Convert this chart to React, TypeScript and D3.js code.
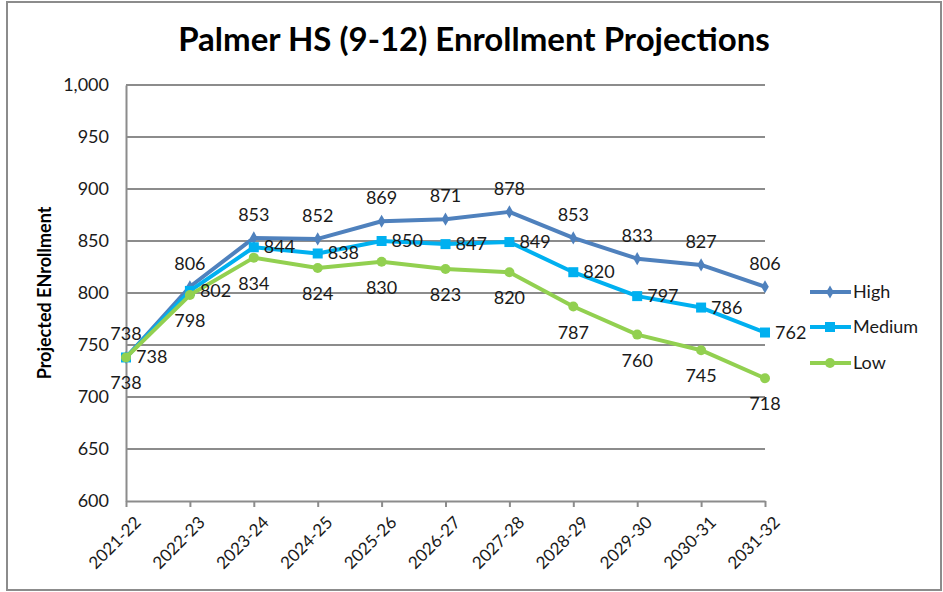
import { useEffect, useRef } from "react";
import * as d3 from "d3";

// Chart data
const years = [
  "2021-22", "2022-23", "2023-24", "2024-25", "2025-26", "2026-27",
  "2027-28", "2028-29", "2029-30", "2030-31", "2031-32",
];
const high = [738, 806, 853, 852, 869, 871, 878, 853, 833, 827, 806];
const medium = [738, 802, 844, 838, 850, 847, 849, 820, 797, 786, 762];
const low = [738, 798, 834, 824, 830, 823, 820, 787, 760, 745, 718];
const yTicks = [600, 650, 700, 750, 800, 850, 900, 950, 1000];

const FONT = "Lato, 'Open Sans', sans-serif";

export default function App() {
  const svgRef = useRef<SVGSVGElement | null>(null);

  useEffect(() => {
    const svg = d3.select(svgRef.current);
    svg.selectAll("*").remove();

    const left = 126, right = 765, top = 85, bottom = 501;

    const x = d3.scalePoint<string>().domain(years).range([left, right]);
    const y = d3.scaleLinear().domain([600, 1000]).range([bottom, top]);

    // outer frame
    svg.append("rect")
      .attr("x", 7).attr("y", 2).attr("width", 934).attr("height", 588)
      .attr("fill", "white").attr("stroke", "#8c8c8c").attr("stroke-width", 2);

    // title
    svg.append("text")
      .attr("x", 474).attr("y", 51)
      .attr("text-anchor", "middle")
      .attr("font-family", FONT).attr("font-weight", "bold").attr("font-size", 33)
      .text("Palmer HS (9-12) Enrollment Projections");

    // gridlines
    svg.append("g")
      .selectAll("line")
      .data(yTicks.slice(1))
      .join("line")
      .attr("x1", left).attr("x2", right)
      .attr("y1", (d) => y(d)).attr("y2", (d) => y(d))
      .attr("stroke", "#8c8c8c").attr("stroke-width", 2);

    // y axis
    const yAxis = svg.append("g")
      .attr("transform", `translate(${left},0)`)
      .call(d3.axisLeft(y).tickValues(yTicks).tickSize(0).tickPadding(17).tickFormat(d3.format(",")));
    yAxis.select(".domain").attr("stroke", "#8c8c8c").attr("stroke-width", 2);
    yAxis.selectAll("text").attr("font-family", FONT).attr("font-size", 18).attr("fill", "#1a1a1a");

    // x axis
    const xAxis = svg.append("g")
      .attr("transform", `translate(0,${bottom})`)
      .call(d3.axisBottom(x).tickSize(6).tickSizeOuter(0));
    xAxis.select(".domain").attr("stroke", "#8c8c8c").attr("stroke-width", 2);
    xAxis.selectAll("line").attr("stroke", "#8c8c8c").attr("stroke-width", 2);
    xAxis.selectAll("text")
      .attr("font-family", FONT).attr("font-size", 17).attr("fill", "#1a1a1a")
      .attr("text-anchor", "end")
      .attr("dy", "0.35em")
      .attr("transform", "translate(5,12) rotate(-45)");

    // y axis title
    svg.append("text")
      .attr("transform", `translate(51,${(top + bottom) / 2}) rotate(-90)`)
      .attr("text-anchor", "middle")
      .attr("font-family", FONT).attr("font-weight", "bold").attr("font-size", 18)
      .text("Projected ENrollment");

    const series = [
      { name: "High", values: high, color: "#4f81bd", marker: "diamond", lx: 0, ly: -17, anchor: "middle" },
      { name: "Medium", values: medium, color: "#00b0f0", marker: "square", lx: 10, ly: 6, anchor: "start" },
      { name: "Low", values: low, color: "#92d050", marker: "circle", lx: 0, ly: 32, anchor: "middle" },
    ];

    const line = d3.line<number>()
      .x((_, i) => x(years[i])!)
      .y((d) => y(d));

    const drawMarker = (g: d3.Selection<SVGGElement, unknown, null, undefined>, kind: string, color: string, cx: number, cy: number) => {
      if (kind === "diamond") {
        g.append("path")
          .attr("d", d3.symbol(d3.symbolDiamond, 50)())
          .attr("transform", `translate(${cx},${cy})`)
          .attr("fill", color);
      } else if (kind === "square") {
        g.append("rect")
          .attr("x", cx - 5).attr("y", cy - 5).attr("width", 10).attr("height", 10)
          .attr("fill", color);
      } else {
        g.append("circle").attr("cx", cx).attr("cy", cy).attr("r", 5).attr("fill", color);
      }
    };

    series.forEach((s) => {
      const g = svg.append("g");
      g.append("path")
        .datum(s.values)
        .attr("d", line)
        .attr("fill", "none")
        .attr("stroke", s.color)
        .attr("stroke-width", 4)
        .attr("stroke-linejoin", "round");
      s.values.forEach((v, i) => drawMarker(g as any, s.marker, s.color, x(years[i])!, y(v)));
    });

    // data labels on top
    series.forEach((s) => {
      svg.append("g")
        .selectAll("text")
        .data(s.values)
        .join("text")
        .attr("x", (_, i) => x(years[i])! + s.lx)
        .attr("y", (d) => y(d) + s.ly)
        .attr("text-anchor", s.anchor)
        .attr("font-family", FONT).attr("font-size", 18).attr("fill", "#1a1a1a")
        .text((d) => d);
    });

    // legend
    const legendY = [292, 327, 363];
    series.forEach((s, i) => {
      const g = svg.append("g");
      g.append("line")
        .attr("x1", 810).attr("x2", 851)
        .attr("y1", legendY[i]).attr("y2", legendY[i])
        .attr("stroke", s.color).attr("stroke-width", 4);
      drawMarker(g as any, s.marker, s.color, 830, legendY[i]);
      g.append("text")
        .attr("x", 853).attr("y", legendY[i])
        .attr("dy", "0.35em")
        .attr("font-family", FONT).attr("font-size", 18).attr("fill", "#1a1a1a")
        .text(s.name);
    });
  }, []);

  return (
    <svg ref={svgRef} width={943} height={592} style={{ position: "absolute", left: 0, top: 0 }} />
  );
}
